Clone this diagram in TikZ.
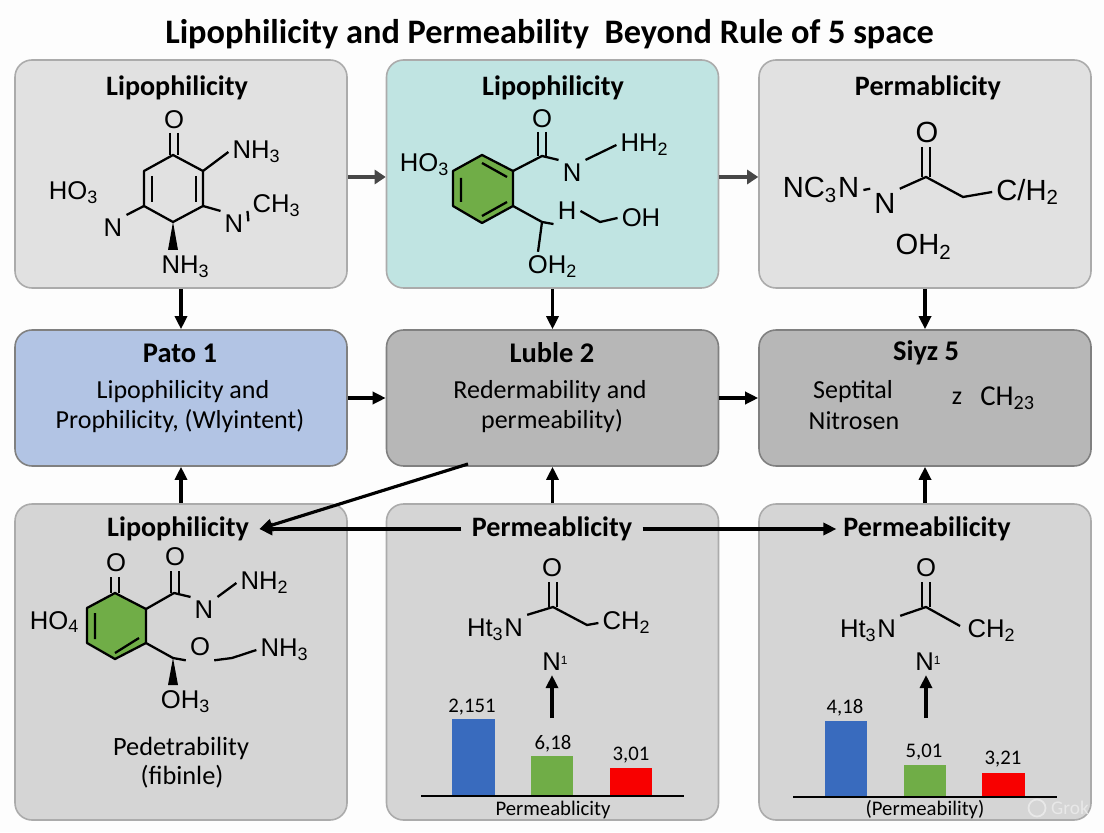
\documentclass[tikz,border=0pt]{standalone}
\usepackage{fontspec}
\setmainfont{Carlito}
\newfontfamily\chemfont{Liberation Sans}
\usetikzlibrary{arrows.meta}
\definecolor{pageBg}{HTML}{FDFDFD}
\definecolor{boxTop}{HTML}{E1E1E1}
\definecolor{boxTeal}{HTML}{C0E4E2}
\definecolor{boxBlue}{HTML}{B2C4E4}
\definecolor{boxMid}{HTML}{B7B7B7}
\definecolor{boxLow}{HTML}{D5D5D5}
\definecolor{ringGreen}{HTML}{70AD47}
\definecolor{barBlue}{HTML}{396BBE}
\definecolor{barRed}{HTML}{F80000}
\newcommand{\smallsup}[1]{\raisebox{1.9pt}{\fontsize{3.4}{4}\selectfont #1}}
\tikzset{
  panel/.style={draw=black!33, line width=0.45pt, rounded corners=0.17cm, minimum width=3.32cm, inner sep=0pt},
  midpanel/.style={panel, draw=black!50, minimum height=1.36cm},
  head/.style={font=\fontsize{8}{9}\selectfont\bfseries, inner sep=2.8pt},
  midhead/.style={font=\fontsize{8.1}{9}\selectfont\bfseries, inner sep=0pt},
  body/.style={font=\fontsize{7.4}{9}\selectfont, inner sep=0pt},
  chem/.style={font=\fontsize{7.3}{9}\chemfont, inner sep=1pt},
  chembig/.style={font=\fontsize{8.3}{9}\chemfont, inner sep=1pt},
  val/.style={font=\fontsize{5.9}{7}\selectfont, inner sep=0pt},
  bond/.style={line width=0.65pt, line join=round},
  flow/.style={line width=0.9pt, -{Triangle[length=1.3mm,width=1.2mm]}},
  flowgrey/.style={draw=black!72, line width=1.2pt, -{Triangle[length=1.1mm,width=1.4mm]}}
}
\begin{document}
\begin{tikzpicture}[x=1cm,y=-1cm]
\path[use as bounding box, fill=pageBg] (0,0) rectangle (11.04,8.32);
\node[font=\fontsize{9.77}{11}\selectfont\bfseries, inner sep=0pt] (title) at (5.495,0.34) {Lipophilicity and Permeability\ \ Beyond Rule of 5 space};

\node[panel, fill=boxTop, minimum height=2.28cm] (lipoA) at (1.81,1.74) {};
\node[panel, fill=boxTeal, minimum height=2.28cm] (lipoB) at (5.525,1.74) {};
\node[panel, fill=boxTop, minimum height=2.28cm] (permC) at (9.25,1.74) {};
\node[midpanel, fill=boxBlue] (pato) at (1.81,3.98) {};
\node[midpanel, fill=boxMid] (luble) at (5.525,3.98) {};
\node[midpanel, fill=boxMid] (siyz) at (9.25,3.98) {};
\node[panel, fill=boxLow, minimum height=3.16cm] (lipoD) at (1.81,6.62) {};
\node[panel, fill=boxLow, minimum height=3.16cm] (permE) at (5.525,6.62) {};
\node[panel, fill=boxLow, minimum height=3.16cm] (permF) at (9.25,6.62) {};

\draw[flowgrey] ([yshift=-0.03cm]lipoA.east) -- ([yshift=-0.03cm]lipoB.west);
\draw[flowgrey] ([yshift=-0.03cm]lipoB.east) -- ([yshift=-0.03cm]permC.west);
\draw[flow] (lipoA.south) -- (pato.north);
\draw[flow] (lipoB.south) -- (luble.north);
\draw[flow] (permC.south) -- (siyz.north);
\draw[flow, line width=1.1pt] (pato.east) -- (luble.west);
\draw[flow, line width=1.1pt] (luble.east) -- (siyz.west);
\draw[flow] (lipoD.north) -- (pato.south);
\draw[flow] (permE.north) -- (luble.south);
\draw[flow] (permF.north) -- (siyz.south);

% panel heads
\node[head] (headA) at (1.77,0.88) {Lipophilicity};
\node[head] (headB) at (5.53,0.88) {Lipophilicity};
\node[head] (headC) at (9.28,0.88) {Permablicity};
\node[head] (headD) at (1.78,5.29) {Lipophilicity};
\node[head] (headE) at (5.52,5.29) {Permeablicity};
\node[head] (headF) at (9.27,5.29) {Permeabilicity};
\coordinate (diagStart) at (4.68,4.64);
\draw[flow] (diagStart) -- (headD.east);
\draw[flow] (headE.west) -- (headD.east);
\draw[flow, shorten >=-1pt] (headE.east) -- (headF.west);

% middle row
\node[midhead] (patoHead) at (1.80,3.53) {Pato 1};
\node[body] (patoA) at (1.83,3.92) {Lipophilicity and};
\node[body] (patoB) at (1.80,4.21) {Prophilicity, (Wlyintent)};
\node[midhead] (lubleHead) at (5.52,3.53) {Luble 2};
\node[body] (lubleA) at (5.50,3.92) {Redermability and};
\node[body] (lubleB) at (5.52,4.21) {permeability)};
\node[midhead] (siyzHead) at (9.26,3.53) {Siyz 5};
\node[body] (siyzA) at (8.53,3.92) {Septital};
\node[body] (siyzB) at (8.54,4.21) {Nitrosen};
\node[body] (siyzC) at (9.57,3.98) {z};
\node[body, font=\fontsize{8.2}{9}\selectfont] (siyzD) at (10.08,3.98) {CH\textsubscript{23}};

% molecule A
\coordinate (a1) at (1.73,1.55);
\coordinate (a2) at (2.03,1.71);
\coordinate (a3) at (2.03,2.06);
\coordinate (a4) at (1.73,2.22);
\coordinate (a5) at (1.44,2.06);
\coordinate (a6) at (1.44,1.71);
\draw[bond] (a1) -- (a2) -- (a3) -- (a4) -- (a5) -- (a6) -- cycle;
\draw[bond] (1.52,1.76) -- (1.52,2.02) (1.96,1.76) -- (1.96,2.02);
\node[chem] (aO) at (1.74,1.20) {O};
\draw[bond] (1.70,1.33) -- (1.70,1.55) (1.78,1.33) -- (1.78,1.55);
\node[chem] (aNHa) at (2.57,1.52) {NH\textsubscript{3}};
\node[chem] (aHO) at (0.74,1.93) {HO\textsubscript{3}};
\node[chem] (aNb) at (1.13,2.28) {N};
\node[chem] (aNc) at (2.34,2.24) {N};
\node[chem] (aCH) at (2.77,2.06) {CH\textsubscript{3}};
\node[chem] (aNHb) at (1.86,2.67) {NH\textsubscript{3}};
\draw[bond] (a2) -- (aNHa.west);
\draw[bond] (a5) -- (aNb.north east);
\draw[bond] (a3) -- (aNc.north west);
\draw[bond] (aNc.north east) -- (aCH.south west);
\fill (a4) -- (1.78,2.50) -- (1.68,2.50) -- cycle;

% molecule B
\coordinate (b1) at (4.82,1.55);
\coordinate (b2) at (5.13,1.71);
\coordinate (b3) at (5.13,2.06);
\coordinate (b4) at (4.82,2.23);
\coordinate (b5) at (4.53,2.06);
\coordinate (b6) at (4.53,1.71);
\filldraw[bond, fill=ringGreen] (b1) -- (b2) -- (b3) -- (b4) -- (b5) -- (b6) -- cycle;
\draw[bond] (4.82,1.63) -- (5.07,1.77) (4.61,1.78) -- (4.61,2.02) (4.82,2.16) -- (5.07,2.02);
\coordinate (b7) at (5.42,1.56);
\coordinate (b8) at (5.42,2.22);
\coordinate (b9) at (6.00,2.22);
\node[chem] (bO) at (5.42,1.19) {O};
\draw[bond] (5.38,1.32) -- (5.38,1.56) (5.46,1.32) -- (5.46,1.56);
\node[chem] (bNa) at (5.72,1.73) {N};
\node[chem] (bHH) at (6.45,1.45) {HH\textsubscript{2}};
\node[chem] (bHO) at (4.25,1.65) {HO\textsubscript{3}};
\node[chem] (bHa) at (5.67,2.11) {H};
\node[chem] (bOH) at (6.41,2.18) {OH};
\node[chem] (bOHb) at (5.53,2.67) {OH\textsubscript{2}};
\draw[bond] (b2) -- (b7) -- (bNa.north west);
\draw[bond] (bNa.north east) -- (bHH.west);
\draw[bond] (b3) -- (b8) -- (bHa.south west);
\draw[bond] (bHa.east) -- (b9) -- (bOH.west);
\draw[bond] (b8) -- ([xshift=-0.15cm]bOHb.north);

% molecule C
\coordinate (c1) at (9.26,1.77);
\coordinate (c2) at (9.63,1.97);
\node[chembig] (cO) at (9.27,1.32) {O};
\draw[bond] (9.22,1.47) -- (9.22,1.77) (9.30,1.47) -- (9.30,1.77);
\node[chembig] (cNC) at (8.21,1.90) {NC\textsubscript{3}N};
\node[chembig] (cN) at (8.85,2.03) {N};
\node[chembig] (cCH) at (10.28,1.92) {C/H\textsubscript{2}};
\node[chembig] (cOH) at (9.24,2.47) {OH\textsubscript{2}};
\draw[bond] (cNC.east) -- (cN.north west);
\draw[bond] (cN.north east) -- (c1) -- (c2) -- (cCH.west);

% molecule D
\coordinate (d1) at (1.15,5.93);
\coordinate (d2) at (1.46,6.09);
\coordinate (d3) at (1.46,6.43);
\coordinate (d4) at (1.15,6.59);
\coordinate (d5) at (0.87,6.43);
\coordinate (d6) at (0.87,6.08);
\filldraw[bond, fill=ringGreen] (d1) -- (d2) -- (d3) -- (d4) -- (d5) -- (d6) -- cycle;
\draw[bond] (0.95,6.13) -- (0.95,6.39) (1.15,6.53) -- (1.39,6.38);
\coordinate (d7) at (1.74,5.93);
\coordinate (d8) at (1.73,6.58);
\coordinate (d9) at (2.32,6.58);
\node[chem] (dOa) at (1.16,5.63) {O};
\node[chem] (dOb) at (1.75,5.57) {O};
\draw[bond] (1.11,5.77) -- (1.11,5.93) (1.19,5.77) -- (1.19,5.93);
\draw[bond] (1.71,5.71) -- (1.71,5.93) (1.79,5.71) -- (1.79,5.93);
\node[chem] (dNa) at (2.04,6.10) {N};
\node[chem] (dNH) at (2.65,5.83) {NH\textsubscript{2}};
\node[chem] (dHO) at (0.55,6.22) {HO\textsubscript{4}};
\node[chem] (dOc) at (2.00,6.47) {O};
\node[chem] (dNHb) at (2.85,6.50) {NH\textsubscript{3}};
\node[chem] (dOH) at (1.86,7.02) {OH\textsubscript{3}};
\draw[bond] (d2) -- (d7) -- (dNa.north west);
\draw[bond] (dNa.north east) -- (dNH.west);
\draw[bond] (d3) -- (d8) -- (dOc.south west);
\draw[bond] (dOc.south east) -- (d9) -- (dNHb.west);
\fill (d8) -- (1.78,6.85) -- (1.68,6.85) -- cycle;
\node[body, font=\fontsize{7.5}{9}\selectfont] (dTextA) at (1.81,7.48) {Pedetrability};
\node[body, font=\fontsize{7.5}{9}\selectfont] (dTextB) at (1.82,7.77) {(fibinle)};

% molecule E and bars
\coordinate (e1) at (5.53,6.07);
\coordinate (e2) at (5.87,6.25);
\node[chem] (eO) at (5.52,5.68) {O};
\draw[bond] (5.49,5.82) -- (5.49,6.07) (5.57,5.82) -- (5.57,6.07);
\node[chem] (eHt) at (4.95,6.30) {Ht\textsubscript{3}N};
\node[chem] (eCH) at (6.27,6.23) {CH\textsubscript{2}};
\node[chem] (eN) at (5.55,6.62) {N\smallsup{1}};
\coordinate (eArrow) at (5.52,7.18);
\draw[bond] (eHt.north east) -- (e1) -- (e2) -- (eCH.west);
\draw[flow] (eArrow) -- (eArrow |- eN.south);
\fill[barBlue] (4.52,7.19) rectangle (4.95,7.96);
\fill[ringGreen] (5.31,7.56) rectangle (5.73,7.96);
\fill[barRed] (6.10,7.68) rectangle (6.52,7.96);
\draw[line width=0.6pt] (4.21,7.96) -- (6.84,7.96);
\node[val] (eValA) at (4.72,7.07) {2,151};
\node[val] (eValB) at (5.53,7.44) {6,18};
\node[val] (eValC) at (6.31,7.55) {3,01};
\node[val] (eAxis) at (5.53,8.10) {Permeablicity};

% molecule F and bars
\coordinate (f1) at (9.26,6.07);
\coordinate (f2) at (9.60,6.26);
\node[chem] (fO) at (9.26,5.68) {O};
\draw[bond] (9.22,5.82) -- (9.22,6.07) (9.30,5.82) -- (9.30,6.07);
\node[chem] (fHt) at (8.68,6.31) {Ht\textsubscript{3}N};
\node[chem] (fCH) at (9.92,6.31) {CH\textsubscript{2}};
\node[chem] (fN) at (9.28,6.62) {N\smallsup{1}};
\coordinate (fArrow) at (9.26,7.18);
\draw[bond] (fHt.north east) -- (f1) -- (f2);
\draw[flow] (fArrow) -- (fArrow |- fN.south);
\fill[barBlue] (8.25,7.21) rectangle (8.67,7.97);
\fill[ringGreen] (9.04,7.65) rectangle (9.46,7.97);
\fill[barRed] (9.82,7.73) rectangle (10.25,7.97);
\draw[line width=0.6pt] (7.93,7.97) -- (10.57,7.97);
\node[val] (fValA) at (8.45,7.08) {4,18};
\node[val] (fValB) at (9.24,7.52) {5,01};
\node[val] (fValC) at (10.03,7.59) {3,21};
\node[val] (fAxis) at (9.25,8.10) {(Permeability)};

\node[font=\fontsize{5.5}{7}\selectfont, text=black!9, inner sep=0pt] (grok) at (10.70,8.08) {Grok};
\draw[black!9, line width=0.5pt] (10.37,8.08) circle (0.085);
\end{tikzpicture}
\end{document}
